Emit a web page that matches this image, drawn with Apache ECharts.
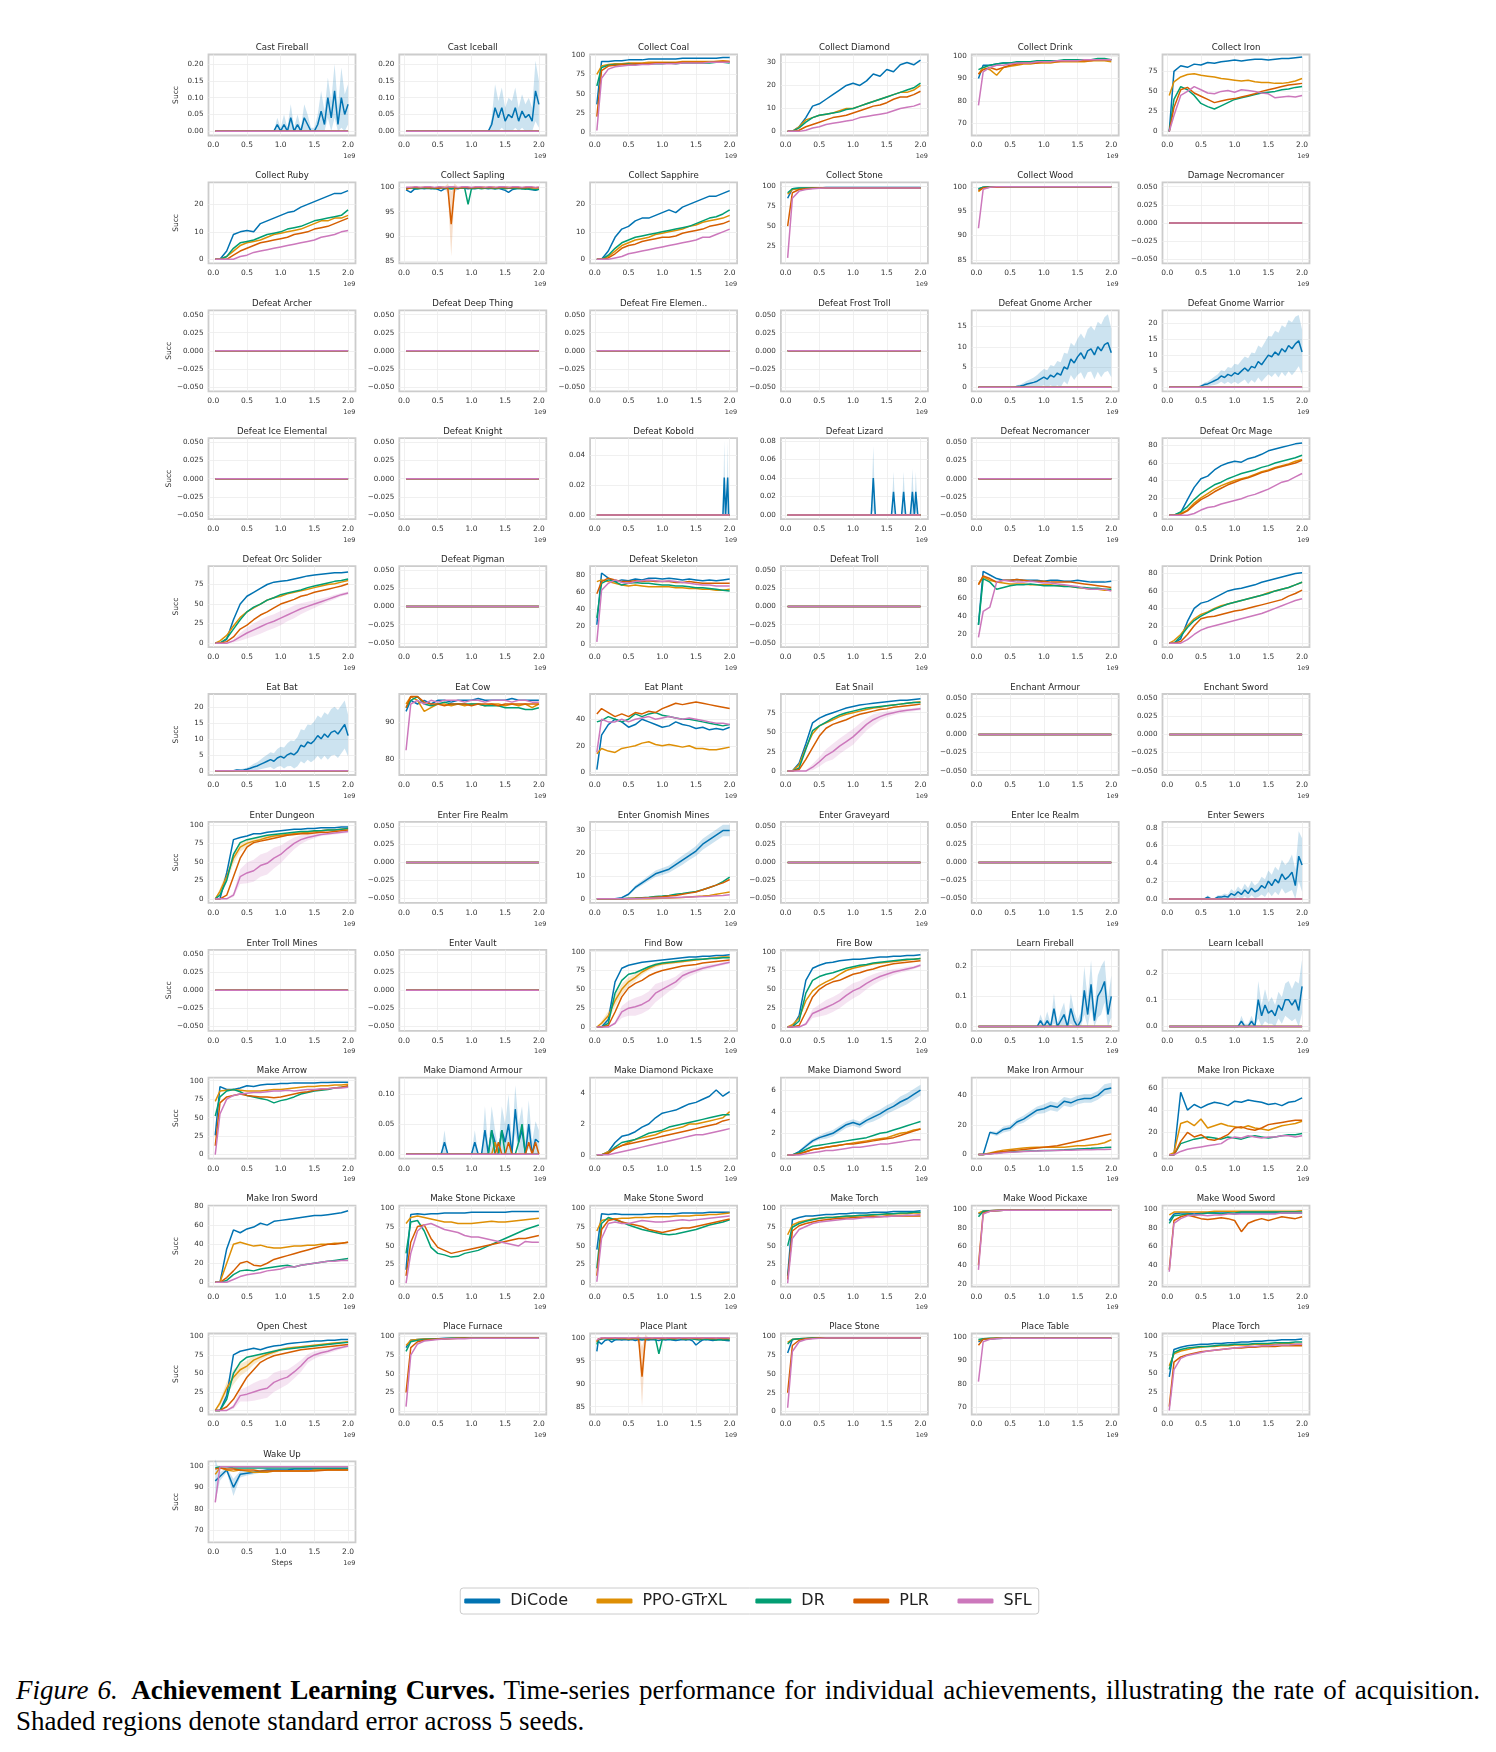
<!DOCTYPE html>
<html>
<head>
<meta charset="utf-8">
<script src="https://cdn.jsdelivr.net/npm/echarts@6/dist/echarts.min.js"></script>
<style>
  html, body { margin: 0; padding: 0; background: #fff; }
  body { width: 1496px; height: 1752px; position: relative; overflow: hidden; }
  #chart { position: absolute; left: 0; top: 0; width: 1496px; height: 1640px; }
  .caption {
    position: absolute; left: 16px; top: 1675px; width: 1464px;
    font-family: "Liberation Serif", "DejaVu Serif", serif;
    font-size: 27px; line-height: 30.5px; color: #000; text-align: justify;
  }
</style>
</head>
<body>
<div id="chart"></div>
<div class="caption"><i>Figure 6.</i>&ensp;<b>Achievement Learning Curves.</b> Time-series performance for individual achievements, illustrating the rate of acquisition. Shaded regions denote standard error across 5 seeds.</div>
<script>
// evaluation steps (x1e9)
const X = [0.03,0.1,0.2,0.3,0.4,0.5,0.6,0.7,0.8,0.9,1.0,1.1,1.2,1.3,1.4,1.5,1.6,1.7,1.8,1.9,2.0];
const XF = [0.03,0.05,0.1,0.15,0.2,0.25,0.3,0.35,0.4,0.45,0.5,0.55,0.6,0.65,0.7,0.75,0.8,0.85,0.9,0.95,
  1.0,1.05,1.1,1.15,1.2,1.25,1.3,1.35,1.4,1.45,1.5,1.55,1.6,1.65,1.7,1.75,1.8,1.85,1.9,1.95,2.0];
const Z = [0,0,0,0,0,0,0,0,0,0,0,0,0,0,0,0,0,0,0,0,0];

const METHODS = ["DiCode", "PPO-GTrXL", "DR", "PLR", "SFL"];
const COLORS = ["#0173b2", "#de8f05", "#029e73", "#d55e00", "#cc78bc"];

// ---- series values (order: DiCode, PPO-GTrXL, DR, PLR, SFL) ----
const cfDi = [0,0, 0,0,0,0,0,0,0,0, 0,0,0,0,0,0,0,0,0,0.02, 0,0.02,0,0.04,0,0.02,0,0.04,0.02,0, 0,0.02,0.06,0.02,0.1,0.04,0.12,0.02,0.1,0.05, 0.08];
const ciDi = [0,0, 0,0,0,0,0,0,0,0, 0,0,0,0,0,0,0,0,0,0, 0,0,0,0,0,0,0.02,0.07,0.04,0.07, 0.03,0.05,0.04,0.07,0.03,0.06,0.04,0.05,0.03,0.12, 0.08];

const ccDi = [36,92,92,93,93,94,94,94,95,95,95,95,95,96,96,96,96,96,96,97,97];
const ccPpo = [75,86,88,89,89,90,90,90,91,91,91,91,91,92,92,92,92,92,92,93,92];
const ccDr = [60,84,87,88,88,89,88,89,89,89,89,90,89,90,90,90,90,90,91,91,90];
const ccPlr = [20,80,86,87,88,88,89,89,89,90,90,90,90,91,91,91,91,91,92,92,92];
const ccSfl = [2,70,82,85,86,87,87,88,88,89,89,89,89,90,90,90,90,91,91,91,91];

const cdDi = [0,0,2,6,11,12,14,16,18,20,21,20,22,25,24,27,26,29,30,29,31];
const cdPpo = [0,0,2,5,6,7,7.5,8,9,10,10,11,12,13,14,15,16,17,17,18,20];
const cdDr = [0,0,1.5,4,6,7,7.5,8,8.5,9.5,10,11,12,13,14,15,16,17,18,19,21];
const cdPlr = [0,0,0.5,2,3,4,5,6,6.5,7,8,9,10,11,11.5,12.5,14,15,15,16,17.5];
const cdSfl = [0,0,0,0.5,1.5,2,3,3.5,4,4.5,5,6,6.5,7,7.5,8,9,10,10.5,11,12];

const drkDi = [90,96,96,96.5,97,97,97,97.5,97.5,97.5,98,98,98,98,98,98,98.5,98.5,98.5,98.5,98.5];
const drkPpo = [92,95,94,91.5,95,95.5,96,96.5,96.5,97,97,97,97.5,97.5,97.5,97.5,97.5,98,98,98,97.5];
const drkDr = [94,95,96,96.5,97,97,97.5,97.5,97.5,98,98,98,98,98.5,98.5,98.5,98.5,98.5,99,99,98.5];
const drkPlr = [92,94,95,94,95,96,96.5,97,97,97,97.5,97.5,97.5,98,98,98,98,98,98.5,98.5,98.5];
const drkSfl = [78,93,95,96,96,96.5,97,97,97,97.5,97.5,97.5,98,98,98,98,98.5,98.5,98.5,98.5,98.5];

const irDi = [0,75,82,80,84,83,86,85,87,88,89,88,89,90,90,89,90,91,91,92,93];
const irPpo = [45,62,68,71,72,70,69,68,66,65,64,63,64,62,61,61,60,60,61,63,66];
const irDr = [0,40,56,52,45,35,31,28,32,36,40,42,44,46,48,49,50,52,53,55,56];
const irPlr = [0,30,52,55,48,44,40,36,38,40,41,43,45,47,50,52,54,56,58,59,60];
const irSfl = [0,20,45,50,56,52,48,47,50,51,49,52,51,50,48,47,42,43,44,43,45];

const crDi = [0,0,3,9,10,10.5,10,13,14,15,16,17,17.5,19,20,21,22,23,24,24,25];
const crPpo = [0,0,1,3,5,6,6.5,7,8,9,9.5,10,10.5,11,12,13,14,14,15,15,16];
const crDr = [0,0,1,4,6,6.5,7,8,9,9.5,10,11,11.5,12,13,14,14.5,15,15.5,16,18];
const crPlr = [0,0,0,1.5,3,4,5,6,6.5,7,7.5,8,9,9.5,10,11,11.5,12,13,14,15];
const crSfl = [0,0,0,0,1,1.5,2.5,3,3.5,4,4.5,5,5.5,6,6.5,7,8,8.5,9,10,10.5];

const sapDi = [99.4,99.3, 98.9,99.5,99.6,99.7,99.6,99.7,99.6,99.7, 99.5,99.2,99.6,99.7,99.6,99.7,99.6,99.8,99.7,99.6, 99.7,99.6,99.7,99.8,99.7,99.6,99.7,99.6,99.7,99.5, 99.3,98.9,99.4,99.6,99.7,99.6,99.7,99.5,99.4,99.3, 99.5];
const sapPpo = [99.7,99.8, 99.9,99.8,99.8,99.9,99.8,99.9,99.9,99.8, 99.8,99.9,99.9,99.8,99.9,99.9,99.8,99.8,99.9,99.9, 99.8,99.9,99.8,99.9,99.9,99.8,99.9,99.9,99.8,99.8, 99.9,99.9,99.8,99.9,99.9,99.8,99.9,99.8,99.9,99.8, 99.9];
const sapDr = [99.6,99.7, 99.8,99.7,99.6,99.7,99.8,99.7,99.7,99.6, 99.7,99.8,99.7,99.7,99.6,99.7,99.7,99.8,99.7,96.5, 99.6,99.7,99.7,99.6,99.7,99.8,99.7,99.6,99.7,99.7, 99.6,99.7,99.7,99.6,99.7,99.6,99.5,99.6,99.5,99.4, 99.5];
const sapPlr = [99.5,99.8, 99.8,99.9,99.8,99.8,99.9,99.8,99.8,99.8, 99.7,99.8,99.8,99.7,92.5,99.7,99.8,99.8,99.9,99.8, 99.8,99.8,99.9,99.8,99.8,99.9,99.8,99.8,99.8,99.9, 99.8,99.8,99.8,99.9,99.8,99.8,99.8,99.9,99.8,99.8, 99.8];
const sapSfl = [99.9,100, 99.9,100,100,99.9,100,100,100,99.9, 100,100,99.9,100,100,100,99.9,100,100,100, 99.9,100,100,100,99.9,100,100,99.9,100,100, 100,99.9,100,100,100,99.9,100,100,100,99.9, 100];

const spDi = [0,0,3,8,11,12,14,15,15,16,17,18,17,19,20,21,22,23,23,24,25];
const spPpo = [0,0,1,3,5,6,7,7.5,8,9,9.5,10,10.5,11,12,12.5,13.5,14,14.5,15,16];
const spDr = [0,0,1.5,4,6,7,8,8.5,9,9.5,10,10.5,11,11.5,12,13,14,15,15.5,16.5,18];
const spPlr = [0,0,0.5,2,4,5,5.5,6.5,7,7.5,8,8,8.5,9.5,10,10.5,11,12,12.5,13,14];
const spSfl = [0,0,0,0.5,1,2,2.5,3,3.5,4,4.5,5,5.5,6,6.5,7,8,8,9,10,11];

const csDi = [85,97,97.5,98,98,98,98.5,98.5,98.5,98.5,98.5,98.5,98.5,98.5,98.5,98.5,98.5,98.5,98.5,98.5,98.5];
const csPpo = [90,96,97,97.5,98,98,98,98,98,98,98,98,98,98,98,98,98,98,98,98,98];
const csDr = [92,97,98,98,98,98,98,98,98,98,98,98,98,98,98,98,98,98,98,98,98];
const csPlr = [50,92,96,97,97.5,98,98,98,98,98,98,98,98,98,98,98,98,98,98,98,98];
const csSfl = [10,85,94,96,97,97.5,98,98,98,98,98,98,98,98,98,98,98,98,98,98,98];

const cwDi = [99.5,99.9,100,100,100,100,100,100,100,100,100,100,100,100,100,100,100,100,100,100,100];
const cwPpo = [99,99.8,99.9,99.9,99.9,100,100,100,100,100,100,100,100,100,100,100,100,100,100,100,100];
const cwDr = [99.6,99.9,100,100,100,100,100,100,100,100,100,100,100,100,100,100,100,100,100,100,100];
const cwPlr = [99.2,99.8,99.9,99.9,100,100,100,100,100,100,100,100,100,100,100,100,100,100,100,100,100];
const cwSfl = [91.5,99.5,99.9,100,100,100,100,100,100,100,100,100,100,100,100,100,100,100,100,100,100];

const gaDi = [0,0, 0,0,0,0,0,0,0,0, 0,0,0.2,0.3,0.5,0.8,1,1.2,1.5,2, 2.5,2,3,2.5,3.5,3,5,4.5,7,6, 7.5,8.5,7,9,9.5,8,10,9,10.5,11, 8.5];
const gwDi = [0,0, 0,0,0,0,0,0,0,0, 0.3,0.8,1,1.5,2,2.5,3.5,3,4,3.5, 4.5,4,5,6,5,6.5,6,8,7,8.5, 10,9.5,11,10,12,11,13,12,13.5,14.5, 11];

const kobDi = [[0.03,0],[1.9,0],[1.92,0.025],[1.94,0],[1.955,0],[1.97,0.025],[1.985,0],[2.0,0]];
const lizDi = [[0.03,0],[1.27,0],[1.3,0.04],[1.33,0],[1.57,0],[1.6,0.025],[1.63,0],[1.72,0],[1.75,0.025],[1.78,0],[1.85,0],[1.88,0.025],[1.91,0],[1.93,0.025],[1.96,0],[2.0,0]];

const omDi = [0,0,3,18,32,42,45,52,57,60,62,61,65,67,70,74,76,78,80,82,83];
const omPpo = [0,0,2,6,14,20,25,30,34,37,40,42,44,47,50,52,55,57,59,62,64];
const omDr = [0,0,4,10,18,25,30,35,38,42,45,48,50,52,55,57,60,62,64,66,69];
const omPlr = [0,0,1,5,12,18,22,27,31,35,38,41,43,46,49,51,54,56,58,60,63];
const omSfl = [0,0,0,0,2,6,9,10,13,15,17,19,22,24,27,30,34,38,40,44,48];

const osDi = [0,0,5,30,50,60,65,70,75,78,79,80,82,84,86,87,88,89,90,90,91];
const osPpo = [0,3,10,22,33,40,45,50,55,58,60,63,65,67,69,71,73,75,76,78,80];
const osDr = [0,0,6,18,30,40,46,50,55,58,62,64,66,68,71,73,75,77,79,80,82];
const osPlr = [0,0,2,8,18,23,30,36,40,45,50,53,56,60,62,65,67,69,71,73,76];
const osSfl = [0,0,0,3,8,13,17,21,25,28,32,36,40,44,47,50,53,56,59,62,64];

const skDi = [22,82,76,72,74,73,75,74,76,76,75,76,75,74,75,74,73,74,73,74,75];
const skPpo = [72,74,72,70,68,67,68,67,66,66,66,66,65,65,64,64,63,63,62,62,63];
const skDr = [30,70,74,72,68,70,71,70,70,69,68,68,67,67,66,65,65,64,63,62,61];
const skPlr = [58,72,76,74,72,72,73,72,73,72,72,72,71,71,72,71,70,70,70,70,70];
const skSfl = [2,62,70,74,71,70,72,73,74,73,72,73,72,71,70,69,68,68,67,67,67];

const zbDi = [30,90,86,82,80,80,81,80,80,80,79,80,80,79,79,80,79,78,78,78,79];
const zbPpo = [76,84,80,78,77,76,76,76,75,75,75,75,74,74,73,72,71,70,70,69,69];
const zbDr = [30,82,78,70,72,74,75,75,76,75,74,74,74,73,73,72,72,71,71,70,70];
const zbPlr = [75,85,82,78,80,80,81,80,79,79,79,78,78,78,78,77,76,75,74,73,72];
const zbSfl = [16,45,50,78,80,79,78,78,79,78,77,77,76,75,74,73,71,70,70,70,68];

const dpDi = [0,0,5,25,40,46,48,52,56,60,62,63,65,67,70,72,74,76,78,80,81];
const dpPpo = [0,3,10,20,28,33,36,40,43,45,47,49,51,53,55,58,60,62,64,67,70];
const dpDr = [0,0,8,18,26,31,35,39,42,45,47,49,51,53,55,57,60,62,64,67,70];
const dpPlr = [0,0,2,10,20,28,30,31,33,35,37,38,40,42,44,46,48,50,54,57,61];
const dpSfl = [0,0,0,4,10,15,18,20,22,24,26,28,30,32,34,37,40,43,46,49,51];

const ebDi = [0,0, 0,0,0,0,0,0.3,0.2,0.3, 0.5,0.8,1.2,1.5,2,2.5,3,3.5,3,4, 4.5,4,5,5.5,5,6,8,7.5,9,8.5, 9.5,11,10,11.5,10.5,12,12.5,11.5,13,14.5, 11];

const ecDi = [93,96,95,96,95,96,96,95.5,96,96,96,96.5,96,96,96,96,96.5,96,96,96,96];
const ecPpo = [95,97,96,93,94,95,95,94.5,95,94.5,95,95,94.5,95,95,94.5,95,94.5,95,94,95];
const ecDr = [94,96,97,95,94.5,95,95.5,95,95,95,95,95,94.5,94.5,94.5,94,94,94,93.5,93.5,94];
const ecPlr = [94,97,97,95.5,95,95,94.5,95,95,95,94.5,95,95,95,94.5,95,95,95,95,95,95];
const ecSfl = [82.5,95,96,95,96,95.5,96,96,96,95.5,96,96,95.5,96,96,96,95.5,96,96,95.5,95.5];

const epDi = [2,28,36,40,38,34,36,40,38,36,34,35,38,36,35,33,34,32,33,32,34];
const epPpo = [14,18,16,15,18,19,20,22,23,21,20,21,20,19,20,18,18,17,17,18,19];
const epDr = [38,39,42,40,38,40,44,42,44,45,43,42,41,40,40,39,38,37,36,35,36];
const epPlr = [44,48,45,42,44,42,45,44,46,45,48,50,52,51,52,53,52,51,50,49,48];
const epSfl = [15,40,38,38,40,38,40,41,42,40,41,42,41,40,41,40,39,38,37,37,36];

const snDi = [0,0,10,35,62,68,72,75,78,81,83,85,86,87,88,89,90,91,91,92,93];
const snPpo = [0,0,8,30,48,58,62,66,70,73,75,77,79,81,82,84,85,86,87,88,89];
const snDr = [0,0,4,28,52,58,63,68,72,75,77,79,81,82,83,84,85,86,87,88,88];
const snPlr = [0,0,2,15,30,45,55,60,63,66,70,73,75,77,79,80,82,83,84,85,86];
const snSfl = [0,0,0,0,5,12,20,25,32,38,44,52,60,66,70,73,75,77,78,79,80];

const edDi = [0,0,35,80,83,85,88,88,90,91,92,93,94,94,95,95,96,96,96,97,97];
const edPpo = [0,10,30,55,70,75,78,80,83,85,86,87,88,89,90,91,92,93,93,94,95];
const edDr = [0,5,25,60,76,80,82,84,86,87,88,89,90,91,91,92,92,93,93,94,95];
const edPlr = [0,0,5,30,55,70,76,78,80,82,84,86,87,88,88,89,90,90,91,92,93];
const edSfl = [0,0,0,5,30,35,38,45,48,55,60,68,75,80,83,85,87,88,89,90,91];

const gmDi = [0,0,0,0,0.5,2,5,7,9,11,12,13,15,17,19,21,24,26,28,30,30];
const gmPpo = [0,0,0,0,0,0,0,0,0,0.1,0.2,0.3,0.5,0.6,0.8,1,1.2,1.5,2,2.5,3];
const gmDr = [0,0,0,0,0,0.2,0.3,0.5,0.7,1,1.2,1.5,2,2.3,2.8,3.2,4,5,6,7.5,9.5];
const gmPlr = [0,0,0,0,0,0.1,0.2,0.3,0.5,0.7,0.9,1.2,1.5,2,2.5,3,4,5,6,7,8.5];
const gmSfl = [0,0,0,0,0,0,0,0.1,0.2,0.3,0.4,0.5,0.6,0.7,0.8,0.9,1,1.1,1.3,1.5,1.8];

const esDi = [0,0, 0,0,0,0,0,0,0,0, 0,0,0.02,0,0,0.02,0.02,0.03,0.02,0.06, 0.04,0.08,0.05,0.1,0.06,0.12,0.08,0.1,0.15,0.12, 0.2,0.15,0.22,0.18,0.28,0.22,0.25,0.3,0.15,0.48, 0.38];

const fbDi = [0,0,10,60,78,82,84,86,87,88,89,90,91,92,93,93,94,94,95,95,96];
const fbPpo = [0,5,15,35,50,60,66,73,78,82,84,85,86,87,88,89,90,91,92,93,93];
const fbDr = [0,0,5,45,62,70,72,76,80,83,85,86,87,88,89,90,90,91,91,92,92];
const fbPlr = [0,0,2,20,40,52,58,62,68,72,75,77,79,81,82,83,85,86,87,88,89];
const fbSfl = [0,0,0,5,20,25,27,30,35,45,50,55,60,68,72,75,78,80,82,84,86];

const frDi = [0,0,15,62,78,82,85,86,88,89,90,90,91,92,93,93,94,94,95,95,96];
const frPpo = [0,3,12,35,48,55,60,64,70,75,78,80,82,84,85,86,87,88,89,90,91];
const frDr = [0,0,8,45,62,67,70,72,75,78,80,82,83,85,86,87,88,89,90,90,91];
const frPlr = [0,0,2,20,40,50,56,60,62,66,70,72,75,77,80,82,84,85,86,87,88];
const frSfl = [0,0,0,4,18,22,26,30,35,42,48,52,58,63,67,70,73,75,77,79,82];

const lfDi = [0,0, 0,0,0,0,0,0,0,0, 0,0,0,0,0,0,0,0,0,0.02, 0,0.02,0,0.06,0,0.02,0.04,0,0.06,0.02, 0,0.02,0.12,0.04,0.14,0.02,0.1,0.12,0.15,0.04, 0.1];
const liDi = [0,0, 0,0,0,0,0,0,0,0, 0,0,0,0,0,0,0,0,0,0, 0,0,0.02,0,0,0.02,0,0.1,0.04,0.08, 0.05,0.06,0.04,0.08,0.06,0.1,0.1,0.08,0.1,0.06, 0.15];

const maDi = [26,92,88,88,90,93,92,94,95,95,96,96,97,97,97,97,97.5,97.5,98,98,98];
const maPpo = [72,86,87,88,87,86,86,86,87,88,88,89,90,91,92,92,93,93,94,94,95];
const maDr = [52,78,86,88,85,80,78,76,74,70,73,75,78,82,84,86,87,88,90,91,92];
const maPlr = [12,70,78,80,82,80,79,78,78,77,78,80,82,84,85,87,88,89,90,91,93];
const maSfl = [0,55,75,80,82,83,84,84,85,86,86,87,86,87,88,88,89,89,90,90,91];

const mdaDi = [0,0, 0,0,0,0,0,0,0,0, 0,0,0.02,0,0,0,0,0,0,0, 0,0.02,0,0,0.04,0,0.04,0.02,0,0.04, 0.02,0.05,0,0.075,0.02,0.04,0,0.05,0,0.025, 0.02];
const mdaPpo = [0,0, 0,0,0,0,0,0,0,0, 0,0,0,0,0,0,0,0,0,0, 0,0,0,0,0,0,0,0.02,0,0, 0,0,0,0,0,0,0,0,0,0, 0];
const mdaDr = [0,0, 0,0,0,0,0,0,0,0, 0,0,0,0,0,0,0,0,0,0, 0,0,0,0,0,0,0.04,0,0,0.04, 0,0,0,0,0.02,0.05,0,0,0,0, 0];
const mdaPlr = [0,0, 0,0,0,0,0,0,0,0, 0,0,0,0,0,0,0,0,0,0, 0,0,0,0,0,0,0,0,0.02,0, 0,0.02,0,0,0,0,0,0.02,0,0.02, 0];

const dpkDi = [0,0,0.2,0.8,1.2,1.3,1.5,1.8,2.0,2.4,2.7,2.8,2.9,3.1,3.3,3.4,3.6,3.8,4.2,3.8,4.1];
const dpkPpo = [0,0,0.2,0.4,0.6,0.8,1.0,1.1,1.2,1.3,1.5,1.6,1.7,1.8,2.0,2.0,2.1,2.2,2.3,2.4,2.8];
const dpkDr = [0,0,0.1,0.5,0.8,0.9,1.0,1.2,1.4,1.5,1.6,1.8,1.9,2.0,2.1,2.2,2.3,2.4,2.5,2.6,2.6];
const dpkPlr = [0,0,0.1,0.4,0.6,0.7,0.8,0.9,1.0,1.1,1.2,1.3,1.4,1.5,1.6,1.7,1.8,1.9,2.0,2.2,2.3];
const dpkSfl = [0,0,0,0.1,0.2,0.3,0.4,0.5,0.6,0.7,0.8,0.9,1.0,1.1,1.2,1.3,1.3,1.4,1.5,1.6,1.7];

const dsDi = [0,0,0.3,0.8,1.3,1.6,1.8,2.0,2.4,2.8,3.0,2.8,3.2,3.5,3.8,4.2,4.5,4.9,5.2,5.6,6.0];
const dsPpo = [0,0,0.1,0.3,0.5,0.6,0.7,0.8,0.9,1.0,1.1,1.2,1.3,1.4,1.5,1.6,1.8,2.0,2.1,2.3,2.4];
const dsDr = [0,0,0.2,0.5,0.8,0.9,1.0,1.1,1.2,1.3,1.4,1.5,1.6,1.8,2.0,2.1,2.3,2.5,2.7,2.9,3.1];
const dsPlr = [0,0,0.1,0.3,0.5,0.6,0.7,0.8,0.9,1.0,1.0,1.1,1.2,1.3,1.4,1.5,1.6,1.8,2.0,2.2,2.4];
const dsSfl = [0,0,0,0.1,0.2,0.3,0.4,0.4,0.5,0.6,0.7,0.7,0.8,0.9,1.0,1.0,1.1,1.2,1.3,1.4,1.4];

const iaDi = [0,0,15,14,17,18,22,24,27,30,31,33,32,36,35,37,38,38,40,44,45];
const iaPpo = [0,0,1,2,3,3.5,4,4.5,4.8,5,5,5,5,5,5.5,6,6,6.5,7,8,10];
const iaDr = [0,0,0.5,1,1.5,1.8,2,2.2,2.4,2.5,2.7,2.8,3,3.2,3.5,3.8,4,4.2,4.5,4.7,5];
const iaPlr = [0,0,0.5,1.5,2,2.5,3,3.5,4,4.5,5,5.5,6,7,8,9,10,11,12,13,14];
const iaSfl = [0,0,0.3,0.8,1.2,1.5,1.8,2,2.2,2.4,2.6,2.7,2.8,2.9,3,3.1,3.2,3.3,3.4,3.5,3.6];

const ipDi = [0,0,56,40,45,42,45,47,46,44,48,47,49,48,47,45,46,44,47,48,51];
const ipPpo = [0,2,28,30,26,32,24,26,28,26,25,24,26,24,23,22,24,26,27,28,30];
const ipDr = [0,0,10,12,14,15,16,15,14,16,15,14,16,17,16,15,16,17,18,18,19];
const ipPlr = [0,0,12,20,16,18,14,13,15,18,24,25,23,22,24,27,28,29,30,31,31];
const ipSfl = [0,0,3,5,6,7,8,9,10,14,16,15,17,16,15,16,16,17,17,16,17];

const isDi = [0,0,35,55,52,56,58,62,60,64,65,66,67,68,69,70,70,71,72,73,75];
const isPpo = [0,0,20,40,42,40,38,39,37,36,36,37,38,38,39,39,40,40,41,41,42];
const isDr = [0,0,2,8,12,13,12,14,15,16,17,18,16,18,19,20,21,22,23,24,25];
const isPlr = [0,0,5,12,20,22,18,17,20,24,26,28,30,32,34,36,38,40,40,41,42];
const isSfl = [0,0,0,3,6,8,9,10,12,13,14,16,16,18,19,20,21,22,22,23,23];

const spkDi = [18,92,93,92,93,93,94,94,94,94,95,95,95,95,95,95,96,96,96,96,96];
const spkPpo = [80,88,90,88,86,84,82,82,80,80,80,81,82,83,82,82,83,84,85,86,87];
const spkDr = [40,82,84,70,48,40,38,35,36,40,42,44,48,52,56,60,64,68,72,75,78];
const spkPlr = [10,55,76,78,60,48,44,40,42,44,46,48,50,52,54,56,58,60,60,62,64];
const spkSfl = [0,40,70,78,80,76,72,70,68,64,62,62,60,58,56,54,52,50,56,55,55];

const ssDi = [45,93,92,93,92,92,92,92,93,93,93,93,93,94,94,94,94,95,95,95,95];
const ssPpo = [70,84,86,86,87,87,88,88,88,89,89,89,90,90,90,91,91,92,92,93,94];
const ssDr = [20,80,88,85,82,78,75,72,70,68,66,65,66,68,70,72,75,78,80,82,85];
const ssPlr = [10,72,84,86,82,80,78,76,72,70,68,70,72,74,74,76,78,80,82,84,86];
const ssSfl = [2,60,80,82,80,80,82,84,83,82,82,83,84,85,84,85,86,87,88,89,90];

const mtDi = [10,85,88,90,90,91,92,92,93,93,94,94,94,95,95,95,96,96,96,96,97];
const mtPpo = [65,78,82,84,86,87,88,88,89,89,90,90,91,91,92,92,93,93,93,94,94];
const mtDr = [50,75,80,83,85,87,88,88,89,90,90,91,91,92,92,93,93,94,94,95,95];
const mtPlr = [5,70,77,80,82,84,85,86,87,87,88,88,89,89,89,90,90,90,90,90,90];
const mtSfl = [0,60,72,76,80,82,83,84,85,86,86,87,88,88,89,89,90,90,91,91,92];

const wpDi = [95,98,98.5,99,99,99,99,99,99,99,99,99,99,99,99,99,99,99,99,99,99];
const wpPpo = [96,98,98.5,99,99,99,99,99,99,99,99,99,99,99,99,99,99,99,99,99,99];
const wpDr = [92,98,98.5,98.5,99,99,99,99,99,99,99,99,99,99,99,99,99,99,99,99,99];
const wpPlr = [40,96,98,98.5,99,99,99,99,99,99,99,99,99,99,99,99,99,99,99,99,99];
const wpSfl = [35,95,98,98.5,99,99,99,99,99,99,99,99,99,99,99,99,99,99,99,99,99];

const wsDi = [88,95,96,96,95,96,96,96,96,96,95,96,96,96,96,96,96,96,96,96,96];
const wsPpo = [94,97,97,97,97,97,97,98,98,98,98,98,98,98,98,98,98,98,98,98,98.5];
const wsDr = [85,93,94,95,94,95,96,96,95,96,96,97,97,97,97,97,97,97,97,97,97];
const wsPlr = [35,88,92,94,92,90,89,90,91,90,88,76,85,88,90,88,90,92,91,90,92];
const wsSfl = [33,85,90,93,94,94,93,94,94,95,95,95,95,95,95,95,95,96,96,96,96];

const ocDi = [0,0,20,75,80,82,84,82,85,87,88,90,91,92,93,94,94,95,95,96,96];
const ocPpo = [0,10,30,45,55,60,68,72,76,79,82,84,85,86,87,88,89,90,91,92,93];
const ocDr = [0,0,15,50,65,72,74,76,78,80,82,83,84,85,86,87,88,89,90,91,92];
const ocPlr = [0,0,5,15,30,45,55,65,70,74,76,78,80,82,83,84,85,86,87,88,89];
const ocSfl = [0,0,0,5,20,22,25,28,30,38,42,45,52,60,70,75,78,80,83,85,87];

const pfDi = [85,95,96,96.5,97,97,97.5,97.5,97.5,98,98,98,98,98,98,98,98,98,98,98,98];
const pfPpo = [88,95,96,96.5,97,97,97,97.5,97.5,97.5,98,98,98,98,98,98,98,98,98,98,98];
const pfDr = [80,93,95,96,96.5,97,97,97.5,97.5,97.5,97.5,98,98,98,98,98,98,98,98,98,98];
const pfPlr = [25,85,93,95,96,96.5,97,97,97.5,97.5,97.5,97.5,98,98,98,98,98,98,98,98,98];
const pfSfl = [6,75,90,94,95,96,96.5,97,97,97,97.5,97.5,97.5,97.5,97.5,97.5,97.5,97.5,97.5,97.5,97.5];

const ppDi = [97.0,99.2, 98.6,99.4,99.6,99.0,99.5,99.6,99.5,99.6, 99.5,99.6,99.4,99.6,99.5,99.6,99.5,99.6,99.5,99.4, 99.6,99.5,99.6,99.5,99.4,99.5,99.6,99.5,99.6,99.3, 98.4,99.0,99.5,99.6,99.5,99.4,99.5,99.6,99.5,99.4, 99.3];
const ppPpo = [99.0,99.6, 99.8,99.9,99.8,99.8,99.9,99.8,99.9,99.9, 99.8,99.8,99.9,99.9,99.8,99.9,99.9,99.8,99.8,99.9, 99.9,99.8,99.9,99.8,99.9,99.9,99.8,99.9,99.9,99.8, 99.8,99.9,99.9,99.8,99.9,99.9,99.8,99.9,99.8,99.9, 99.8];
const ppDr = [98.5,99.5, 99.7,99.8,99.7,99.6,99.7,99.8,99.7,99.7, 99.6,99.7,99.8,99.7,99.7,99.6,99.7,99.7,99.8,96.5, 99.6,99.7,99.7,99.6,99.7,99.8,99.7,99.6,99.7,99.7, 99.6,99.5,99.7,99.6,99.7,99.6,99.5,99.6,99.5,99.6, 99.5];
const ppPlr = [99.2,99.7, 99.8,99.9,99.8,99.8,99.9,99.8,99.8,99.8, 99.7,99.8,99.8,99.7,91.5,99.7,99.8,99.8,99.9,99.8, 99.8,99.8,99.9,99.8,99.8,99.9,99.8,99.8,99.8,99.9, 99.8,99.8,99.8,99.9,99.8,99.8,99.8,99.9,99.8,99.8, 99.8];
const ppSfl = [99.5,99.9, 100,99.9,100,100,99.9,100,100,100, 99.9,100,100,100,99.9,100,100,99.9,100,100, 100,99.9,100,100,100,99.9,100,100,99.9,100, 100,100,99.9,100,100,100,99.9,100,100,100, 99.9];

const psDi = [78,96,97,97.5,98,98,98,98,98.5,98.5,98.5,98.5,98.5,98.5,98.5,98.5,98.5,98.5,98.5,98.5,98.5];
const psPpo = [92,96,97,97.5,98,98,98,98,98,98.5,98.5,98.5,98.5,98.5,98.5,98.5,98.5,98.5,98.5,98.5,98.5];
const psDr = [90,96,97,97.5,98,98,98,98,98,98,98.5,98.5,98.5,98.5,98.5,98.5,98.5,98.5,98.5,98.5,98.5];
const psPlr = [25,88,95,97,97.5,98,98,98,98,98,98,98,98,98.5,98.5,98.5,98.5,98.5,98.5,98.5,98.5];
const psSfl = [5,80,93,96,97,97.5,98,98,98,98,98,98,98,98,98,98,98,98,98,98,98];

const ptDi = [98,99,99.2,99.4,99.5,99.5,99.5,99.5,99.5,99.5,99.5,99.5,99.5,99.5,99.5,99.5,99.5,99.5,99.5,99.5,99.5];
const ptPpo = [98.5,99.2,99.4,99.5,99.5,99.5,99.5,99.5,99.5,99.5,99.5,99.5,99.5,99.5,99.5,99.5,99.5,99.5,99.5,99.5,99.5];
const ptDr = [99,99.3,99.5,99.5,99.5,99.5,99.5,99.5,99.5,99.5,99.5,99.5,99.5,99.5,99.5,99.5,99.5,99.5,99.5,99.5,99.5];
const ptPlr = [96.5,99,99.3,99.5,99.5,99.5,99.5,99.5,99.5,99.5,99.5,99.5,99.5,99.5,99.5,99.5,99.5,99.5,99.5,99.5,99.5];
const ptSfl = [81,98,99,99.3,99.5,99.5,99.5,99.5,99.5,99.5,99.5,99.5,99.5,99.5,99.5,99.5,99.5,99.5,99.5,99.5,99.5];

const ptoDi = [45,82,85,87,88,89,89,90,90,91,91,92,92,93,93,94,94,95,95,95,96];
const ptoPpo = [60,76,80,82,84,85,86,86,87,87,88,88,88,89,89,89,89,90,90,89,89];
const ptoDr = [55,78,82,84,85,86,86,87,88,88,89,89,89,90,90,90,91,91,91,92,92];
const ptoPlr = [5,65,72,75,77,79,80,81,82,83,84,84,85,85,86,86,86,87,87,87,87];
const ptoSfl = [0,55,70,74,76,78,80,81,82,83,84,85,86,86,87,87,88,88,88,89,89];

const wuDi = [93,95,98,90,96,96.5,97,97.5,98,98,98,98,98.5,98.5,98.5,98.5,98.5,98.5,98.5,98.5,98.5];
const wuPpo = [96,99,98,97.5,98,97.5,97,97,97,97.5,97.5,97.5,97.5,97.5,97.5,98,98,98,98,98,98];
const wuDr = [99,99.5,99.5,99,99,99,99,99,99,99,99,99,99,99,99,99,99,99,99,99,99];
const wuPlr = [98.5,99,98.5,98.5,98,98,98,97.5,97.5,97.5,97.5,97.5,97.5,97.5,97.5,97.5,97.8,98,98,98,98];
const wuSfl = [83,99.5,99.5,99.5,99.5,99.5,99.5,99.5,99.5,99.5,99.5,99.5,99.5,99.5,99.5,99.5,99.5,99.5,99.5,99.5,99.5];

// ---- standard-error half widths (same points as their series) ----
const cfErr = [0,0, 0,0,0,0,0,0,0,0, 0,0,0,0,0,0,0,0,0,0.02, 0.01,0.03,0.01,0.04,0.01,0.03,0.01,0.04,0.03,0.01, 0.01,0.03,0.06,0.04,0.06,0.05,0.08,0.05,0.09,0.06, 0.06];
const ciErr = [0,0, 0,0,0,0,0,0,0,0, 0,0,0,0,0,0,0,0,0,0, 0,0,0,0,0,0,0.02,0.07,0.05,0.06, 0.04,0.05,0.05,0.06,0.04,0.05,0.04,0.05,0.04,0.09, 0.07];
const gaErr = [0,0, 0,0,0,0,0,0,0,0, 0,0,0.3,0.4,0.6,0.8,1,1.2,1.5,1.8, 2,2.2,2.5,2.7,3,3.2,3.5,3.8,4,4.2, 4.5,4.8,5,5.3,5.6,6,6.2,6.5,6.8,7, 6];
const gwErr = [0,0, 0,0,0,0,0,0,0,0, 0.4,0.6,0.8,1,1.3,1.5,1.8,2,2.3,2.5, 2.8,3,3.3,3.6,4,4.3,4.6,5,5.3,5.6, 6,6.3,6.6,7,7.3,7.6,8,8.3,8.5,8, 7];
const ebErr = [0,0, 0,0,0,0,0,0.3,0.3,0.4, 0.5,0.7,1,1.2,1.5,1.8,2,2.3,2.5,2.8, 3,3.3,3.6,4,4.3,4.6,5,5.2,5.5,5.8, 6,6.3,6.5,6.8,7,7.3,7.5,7.5,7.5,7.5, 6.5];
const esErr = [0,0, 0,0,0,0,0,0,0,0, 0,0,0.02,0.01,0.01,0.02,0.02,0.03,0.03,0.05, 0.04,0.06,0.05,0.07,0.06,0.08,0.07,0.08,0.1,0.1, 0.12,0.12,0.14,0.14,0.16,0.16,0.17,0.2,0.18,0.28, 0.3];
const lfErr = [0,0, 0,0,0,0,0,0,0,0, 0,0,0,0,0,0,0,0,0,0.02, 0.01,0.03,0.01,0.05,0.01,0.03,0.04,0.01,0.05,0.03, 0.02,0.03,0.08,0.05,0.08,0.04,0.07,0.08,0.07,0.05, 0.07];
const liErr = [0,0, 0,0,0,0,0,0,0,0, 0,0,0,0,0,0,0,0,0,0, 0,0,0.02,0.01,0.01,0.02,0.01,0.07,0.04,0.06, 0.04,0.05,0.04,0.05,0.05,0.06,0.07,0.06,0.07,0.1, 0.1];
const mdaErr = [0,0, 0,0,0,0,0,0,0,0, 0,0,0.02,0,0,0,0,0,0,0, 0,0.02,0,0,0.04,0.01,0.04,0.02,0.01,0.04, 0.03,0.05,0.02,0.04,0.03,0.04,0.02,0.04,0.02,0.03, 0.02];
const kobErr = [0,0,0.025,0,0,0.025,0,0];
const lizErr = [0,0,0.035,0,0,0.022,0,0,0.022,0,0,0.025,0,0.022,0,0];
const sapPlrErr = [0.3,0.2, 0.2,0.2,0.2,0.2,0.2,0.2,0.2,0.2, 0.2,0.2,0.2,1.0,6.5,1.0,0.2,0.2,0.2,0.2, 0.2,0.2,0.2,0.2,0.2,0.2,0.2,0.2,0.2,0.2, 0.2,0.2,0.2,0.2,0.2,0.2,0.2,0.2,0.2,0.2, 0.2];
const ppPlrErr = [0.3,0.2, 0.2,0.2,0.2,0.2,0.2,0.2,0.2,0.2, 0.2,0.2,0.2,1.0,6.5,1.0,0.2,0.2,0.2,0.2, 0.2,0.2,0.2,0.2,0.2,0.2,0.2,0.2,0.2,0.2, 0.2,0.2,0.2,0.2,0.2,0.2,0.2,0.2,0.2,0.2, 0.2];
const osSflErr = [0,0,0,2,5,7,8,9,9,9,9,8,8,7,6,5,4,3,3,2,2];
const edSflErr = [0,0,0,3,10,14,15,15,15,14,12,10,8,6,4,3,2,2,2,2,2];
const fbSflErr = [0,0,0,2,8,10,12,12,12,12,10,8,7,6,5,4,3,3,2,2,2];
const frSflErr = [0,0,0,2,6,8,10,10,10,10,10,9,8,7,6,5,4,3,3,2,2];
const ocSflErr = [0,0,0,3,8,10,12,13,13,13,12,10,9,8,6,5,4,3,3,2,2];
const snSflErr = [0,0,0,1,4,6,8,10,10,10,10,9,8,7,5,4,3,3,2,2,2];
const edPpoErr = [0,4,8,8,6,5,4,3,3,2,2,2,2,2,1,1,1,1,1,1,1];
const fbPpoErr = [0,3,6,8,7,6,5,4,3,3,2,2,2,2,1,1,1,1,1,1,1];
const ocPpoErr = [0,4,8,10,8,7,6,4,3,3,2,2,2,1,1,1,1,1,1,1,1];
const gmDiErr = [0,0,0,0,0.3,0.5,0.8,1,1.2,1.4,1.5,1.6,1.8,2,2,2.2,2.4,2.5,2.5,2.5,2.5];
const iaDiErr = [0,0,1,1.5,2,2,2,2.5,2.5,2.5,3,3,3,3,3,3,3,3,3,3.5,3.5];
const dsDiErr = [0,0,0.1,0.2,0.2,0.2,0.3,0.3,0.3,0.3,0.3,0.3,0.3,0.4,0.4,0.4,0.4,0.5,0.5,0.5,0.5];
const wuDiErr = [10,2,1,4,1.5,1,1,0.8,0.8,0.6,0.6,0.5,0.5,0.5,0.5,0.5,0.5,0.5,0.5,0.5,0.5];

// ---- panels ----
const ZERO5 = [Z, Z, Z, Z, Z];
const TITLES = [
  "Cast Fireball", "Cast Iceball", "Collect Coal", "Collect Diamond", "Collect Drink", "Collect Iron",
  "Collect Ruby", "Collect Sapling", "Collect Sapphire", "Collect Stone", "Collect Wood", "Damage Necromancer",
  "Defeat Archer", "Defeat Deep Thing", "Defeat Fire Elemen..", "Defeat Frost Troll", "Defeat Gnome Archer", "Defeat Gnome Warrior",
  "Defeat Ice Elemental", "Defeat Knight", "Defeat Kobold", "Defeat Lizard", "Defeat Necromancer", "Defeat Orc Mage",
  "Defeat Orc Solider", "Defeat Pigman", "Defeat Skeleton", "Defeat Troll", "Defeat Zombie", "Drink Potion",
  "Eat Bat", "Eat Cow", "Eat Plant", "Eat Snail", "Enchant Armour", "Enchant Sword",
  "Enter Dungeon", "Enter Fire Realm", "Enter Gnomish Mines", "Enter Graveyard", "Enter Ice Realm", "Enter Sewers",
  "Enter Troll Mines", "Enter Vault", "Find Bow", "Fire Bow", "Learn Fireball", "Learn Iceball",
  "Make Arrow", "Make Diamond Armour", "Make Diamond Pickaxe", "Make Diamond Sword", "Make Iron Armour", "Make Iron Pickaxe",
  "Make Iron Sword", "Make Stone Pickaxe", "Make Stone Sword", "Make Torch", "Make Wood Pickaxe", "Make Wood Sword",
  "Open Chest", "Place Furnace", "Place Plant", "Place Stone", "Place Table", "Place Torch",
  "Wake Up"
];
const PANEL_SERIES = [
  [cfDi, Z, Z, Z, Z], [ciDi, Z, Z, Z, Z], [ccDi, ccPpo, ccDr, ccPlr, ccSfl], [cdDi, cdPpo, cdDr, cdPlr, cdSfl], [drkDi, drkPpo, drkDr, drkPlr, drkSfl], [irDi, irPpo, irDr, irPlr, irSfl],
  [crDi, crPpo, crDr, crPlr, crSfl], [sapDi, sapPpo, sapDr, sapPlr, sapSfl], [spDi, spPpo, spDr, spPlr, spSfl], [csDi, csPpo, csDr, csPlr, csSfl], [cwDi, cwPpo, cwDr, cwPlr, cwSfl], ZERO5,
  ZERO5, ZERO5, ZERO5, ZERO5, [gaDi, Z, Z, Z, Z], [gwDi, Z, Z, Z, Z],
  ZERO5, ZERO5, [kobDi, Z, Z, Z, Z], [lizDi, Z, Z, Z, Z], ZERO5, [omDi, omPpo, omDr, omPlr, omSfl],
  [osDi, osPpo, osDr, osPlr, osSfl], ZERO5, [skDi, skPpo, skDr, skPlr, skSfl], ZERO5, [zbDi, zbPpo, zbDr, zbPlr, zbSfl], [dpDi, dpPpo, dpDr, dpPlr, dpSfl],
  [ebDi, Z, Z, Z, Z], [ecDi, ecPpo, ecDr, ecPlr, ecSfl], [epDi, epPpo, epDr, epPlr, epSfl], [snDi, snPpo, snDr, snPlr, snSfl], ZERO5, ZERO5,
  [edDi, edPpo, edDr, edPlr, edSfl], ZERO5, [gmDi, gmPpo, gmDr, gmPlr, gmSfl], ZERO5, ZERO5, [esDi, Z, Z, Z, Z],
  ZERO5, ZERO5, [fbDi, fbPpo, fbDr, fbPlr, fbSfl], [frDi, frPpo, frDr, frPlr, frSfl], [lfDi, Z, Z, Z, Z], [liDi, Z, Z, Z, Z],
  [maDi, maPpo, maDr, maPlr, maSfl], [mdaDi, mdaPpo, mdaDr, mdaPlr, Z], [dpkDi, dpkPpo, dpkDr, dpkPlr, dpkSfl], [dsDi, dsPpo, dsDr, dsPlr, dsSfl], [iaDi, iaPpo, iaDr, iaPlr, iaSfl], [ipDi, ipPpo, ipDr, ipPlr, ipSfl],
  [isDi, isPpo, isDr, isPlr, isSfl], [spkDi, spkPpo, spkDr, spkPlr, spkSfl], [ssDi, ssPpo, ssDr, ssPlr, ssSfl], [mtDi, mtPpo, mtDr, mtPlr, mtSfl], [wpDi, wpPpo, wpDr, wpPlr, wpSfl], [wsDi, wsPpo, wsDr, wsPlr, wsSfl],
  [ocDi, ocPpo, ocDr, ocPlr, ocSfl], [pfDi, pfPpo, pfDr, pfPlr, pfSfl], [ppDi, ppPpo, ppDr, ppPlr, ppSfl], [psDi, psPpo, psDr, psPlr, psSfl], [ptDi, ptPpo, ptDr, ptPlr, ptSfl], [ptoDi, ptoPpo, ptoDr, ptoPlr, ptoSfl],
  [wuDi, wuPpo, wuDr, wuPlr, wuSfl]
];
const BANDS = [
  ["Cast Fireball", 0, cfErr], ["Cast Iceball", 0, ciErr], ["Defeat Gnome Archer", 0, gaErr], ["Defeat Gnome Warrior", 0, gwErr],
  ["Defeat Kobold", 0, kobErr], ["Defeat Lizard", 0, lizErr], ["Eat Bat", 0, ebErr], ["Enter Sewers", 0, esErr],
  ["Learn Fireball", 0, lfErr], ["Learn Iceball", 0, liErr], ["Make Diamond Armour", 0, mdaErr],
  ["Collect Sapling", 3, sapPlrErr], ["Place Plant", 3, ppPlrErr],
  ["Defeat Orc Solider", 4, osSflErr], ["Enter Dungeon", 4, edSflErr], ["Find Bow", 4, fbSflErr], ["Fire Bow", 4, frSflErr],
  ["Open Chest", 4, ocSflErr], ["Eat Snail", 4, snSflErr],
  ["Enter Dungeon", 1, edPpoErr], ["Find Bow", 1, fbPpoErr], ["Open Chest", 1, ocPpoErr],
  ["Enter Gnomish Mines", 0, gmDiErr], ["Make Iron Armour", 0, iaDiErr], ["Make Diamond Sword", 0, dsDiErr], ["Wake Up", 0, wuDiErr]
];

// ---- y scales ----
const T_Z = [-0.05, -0.025, 0, 0.025, 0.05];
const T_F20 = [0, 0.05, 0.1, 0.15, 0.2];
const T_100 = [0, 25, 50, 75, 100];
const T_75 = [0, 25, 50, 75];
const T_30 = [0, 10, 20, 30];
const T_20 = [0, 10, 20];
const T_70 = [70, 80, 90, 100];
const T_85 = [85, 90, 95, 100];
const T_25 = [25, 50, 75, 100];
const T_15 = [0, 5, 10, 15];
const T_5_20 = [0, 5, 10, 15, 20];
const T_F04 = [0, 0.02, 0.04];
const T_F08 = [0, 0.02, 0.04, 0.06, 0.08];
const T_80 = [0, 20, 40, 60, 80];
const T_20_80 = [20, 40, 60, 80];
const T_80_90 = [80, 90];
const T_40 = [0, 20, 40];
const T_P8 = [0, 0.2, 0.4, 0.6, 0.8];
const T_P2 = [0, 0.1, 0.2];
const T_F10 = [0, 0.05, 0.1];
const T_4 = [0, 2, 4];
const T_6 = [0, 2, 4, 6];
const T_60 = [0, 20, 40, 60];
const T_20_100 = [20, 40, 60, 80, 100];
const YZ = [-0.056, 0.056];

const Y_RANGE = [
  [-0.0128, 0.2286], [-0.0128, 0.2286], [-4.5, 101], [-1.8, 33.5], [64.5, 100.8], [-5, 96],
  [-1.5, 28], [84.6, 100.9], [-1.5, 28], [3, 105], [84.3, 100.9], YZ,
  YZ, YZ, YZ, YZ, [-1, 19], [-1.3, 24],
  YZ, YZ, [-0.0028, 0.0513], [-0.0045, 0.083], YZ, [-4.5, 88.5],
  [-5, 98.5], YZ, [-4, 90], YZ, [5, 96], [-4.5, 88.5],
  [-1.3, 24], [75.8, 97.7], [-2, 59], [-5, 99], YZ, YZ,
  [-5.5, 104], YZ, [-1.8, 33.8], YZ, YZ, [-0.045, 0.865],
  YZ, YZ, [-5, 102.5], [-5, 102.5], [-0.014, 0.255], [-0.016, 0.286],
  [-5.5, 104], [-0.0075, 0.1275], [-0.25, 5], [-0.35, 7.15], [-2.8, 52], [-3.5, 69],
  [-4.5, 80.5], [-4.5, 104], [-4.5, 104], [-4.5, 104], [17, 104], [17, 104],
  [-5.5, 104], [-4.5, 104], [83.3, 100.9], [-4, 104], [67, 101.5], [-5.5, 103.5],
  [64.5, 102]
];
const Y_TICKS = [
  T_F20, T_F20, T_100, T_30, T_70, T_75,
  T_20, T_85, T_20, T_25, T_85, T_Z,
  T_Z, T_Z, T_Z, T_Z, T_15, T_5_20,
  T_Z, T_Z, T_F04, T_F08, T_Z, T_80,
  T_75, T_Z, T_80, T_Z, T_20_80, T_80,
  T_5_20, T_80_90, T_40, T_75, T_Z, T_Z,
  T_100, T_Z, T_30, T_Z, T_Z, T_P8,
  T_Z, T_Z, T_100, T_100, T_P2, T_P2,
  T_100, T_F10, T_4, T_6, T_40, T_60,
  T_80, T_100, T_100, T_100, T_20_100, T_20_100,
  T_100, T_100, T_85, T_100, T_70, T_100,
  T_70
];
const Y_DEC = [
  2, 2, 0, 0, 0, 0,
  0, 0, 0, 0, 0, 3,
  3, 3, 3, 3, 0, 0,
  3, 3, 2, 2, 3, 0,
  0, 3, 0, 3, 0, 0,
  0, 0, 0, 0, 3, 3,
  0, 3, 0, 3, 3, 1,
  3, 3, 0, 0, 1, 1,
  0, 2, 0, 0, 0, 0,
  0, 0, 0, 0, 0, 0,
  0, 0, 0, 0, 0, 0,
  0
];
const X_TICKS = [0, 0.5, 1, 1.5, 2];

// ---- layout ----
const FONT = '"DejaVu Sans", Verdana, sans-serif';
const COL_LEFT = 208.5, COL_STEP = 190.8, ROW_TOP = 54.5, ROW_STEP = 127.9;
const PW = 147, PH = 81;

function toPairs(ys) {
  if (Array.isArray(ys[0])) return ys;
  const xs = ys.length === XF.length ? XF : X;
  return ys.map((y, i) => [xs[i], y]);
}
function yFmt(dec) {
  return (v) => (v < -1e-12 ? "\u2212" : "") + Math.abs(v).toFixed(dec);
}
function rgba(hex, a) {
  const n = parseInt(hex.slice(1), 16);
  return `rgba(${(n >> 16) & 255}, ${(n >> 8) & 255}, ${n & 255}, ${a})`;
}

const grids = [], xAxes = [], yAxes = [], series = [], graphics = [];

TITLES.forEach((title, i) => {
  const col = i % 6, row = Math.floor(i / 6);
  const left = COL_LEFT + COL_STEP * col;
  const top = ROW_TOP + ROW_STEP * row;
  const isLast = i === TITLES.length - 1;

  grids.push({
    left, top, width: PW, height: PH, show: true,
    backgroundColor: "#fff", borderColor: "#cccccc", borderWidth: 1.8
  });
  xAxes.push({
    type: "value", gridIndex: i, min: -0.07, max: 2.11,
    axisLine: { show: false },
    axisTick: { show: false, customValues: X_TICKS },
    axisLabel: {
      customValues: X_TICKS, formatter: (v) => v.toFixed(1),
      fontSize: 7.5, color: "#333", margin: 6, fontFamily: FONT
    },
    splitLine: { show: true, lineStyle: { color: "#ececec", width: 0.8 } },
    name: isLast ? "Steps" : "", nameLocation: "middle", nameGap: 17,
    nameTextStyle: { fontSize: 7.5, color: "#333", fontFamily: FONT }
  });
  const ticks = Y_TICKS[i];
  yAxes.push({
    type: "value", gridIndex: i, min: Y_RANGE[i][0], max: Y_RANGE[i][1],
    axisLine: { show: false },
    axisTick: { show: false, customValues: ticks },
    axisLabel: {
      customValues: ticks, formatter: yFmt(Y_DEC[i]),
      fontSize: 7.2, color: "#333", margin: 5, fontFamily: FONT
    },
    splitLine: { show: true, lineStyle: { color: "#ececec", width: 0.8 } },
    name: col === 0 ? "Succ" : "", nameLocation: "middle", nameGap: 28,
    nameTextStyle: { fontSize: 7.5, color: "#333", fontFamily: FONT }
  });

  PANEL_SERIES[i].forEach((ys, k) => {
    series.push({
      type: "line", name: METHODS[k], xAxisIndex: i, yAxisIndex: i,
      data: toPairs(ys), showSymbol: false, symbol: "none", silent: true,
      color: COLORS[k], lineStyle: { color: COLORS[k], width: 1.5 }, z: 3 + k
    });
  });

  graphics.push({
    type: "text", x: left + PW / 2, y: top - 6.5, silent: true,
    style: {
      text: title, fill: "#262626", font: `8.6px ${FONT}`,
      align: "center", verticalAlign: "middle", textAlign: "center", textVerticalAlign: "middle"
    }
  });
  graphics.push({
    type: "text", x: left + PW, y: top + PH + 21, silent: true,
    style: {
      text: "1e9", fill: "#333", font: `6.5px ${FONT}`,
      align: "right", verticalAlign: "middle", textAlign: "right", textVerticalAlign: "middle"
    }
  });
});

BANDS.forEach(([title, k, err]) => {
  const i = TITLES.indexOf(title);
  const pts = toPairs(PANEL_SERIES[i][k]);
  const poly = pts.map((p, j) => [p[0], Math.max(0, p[1] - err[j]), p[1] + err[j]]);
  series.push({
    type: "custom", xAxisIndex: i, yAxisIndex: i, silent: true, z: 1,
    data: [[poly[0][0], poly[0][1]]],
    renderItem: (params, api) => {
      const upper = poly.map((p) => api.coord([p[0], p[2]]));
      const lower = poly.map((p) => api.coord([p[0], p[1]])).reverse();
      return {
        type: "polygon",
        shape: { points: upper.concat(lower) },
        style: { fill: rgba(COLORS[k], 0.2) }
      };
    }
  });
});

const chart = echarts.init(document.getElementById("chart"), null, { renderer: "canvas" });
chart.setOption({
  animation: false,
  backgroundColor: "#fff",
  grid: grids,
  xAxis: xAxes,
  yAxis: yAxes,
  series,
  graphic: graphics,
  legend: {
    data: METHODS, left: "center", top: 1588,
    icon: "roundRect", itemWidth: 36, itemHeight: 5, itemGap: 28.5,
    selectedMode: false,
    textStyle: { fontSize: 16, color: "#222", fontFamily: FONT, padding: [0, 0, 0, 5] },
    borderColor: "#cccccc", borderWidth: 1, borderRadius: 3,
    padding: [5, 7, 5, 4], backgroundColor: "#fff"
  }
});
</script>
</body>
</html>
